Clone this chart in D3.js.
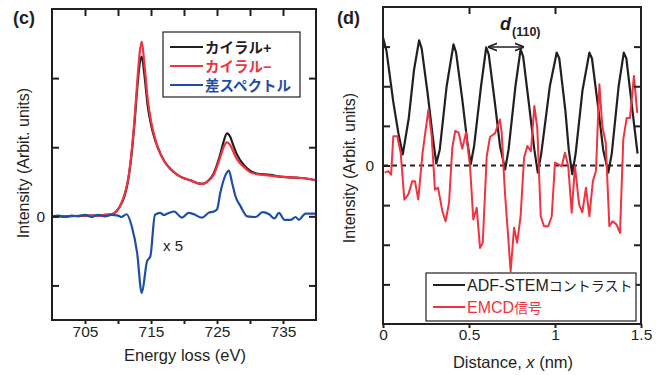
<!DOCTYPE html>
<html><head><meta charset="utf-8">
<script src="https://cdn.jsdelivr.net/npm/d3@7"></script>
<style>
body{margin:0;background:#fff;}
svg{display:block;}
text{font-family:"Liberation Sans",Arial,"Noto Sans CJK JP",sans-serif;}
</style></head>
<body><svg id="c" width="667" height="375"></svg>
<script>
// ---------- Panel (c) data ----------
const energy = [700,702,705,707,708,709,709.5,710,710.5,711,711.5,712,712.5,713,713.3,713.6,714,714.5,715,715.5,716,717,718,719,720,721,722,722.7,723.5,724.5,725.5,726,726.5,727,727.5,728,729,730,731,733,735,737,739,740];
const chiralPlus = [0,0,0.01,0.01,0.02,0.03,0.05,0.1,0.18,0.3,0.5,0.85,1.35,1.95,2.22,2.31,2.05,1.6,1.33,1.14,1.0,0.8,0.68,0.6,0.55,0.52,0.48,0.47,0.5,0.62,0.9,1.08,1.2,1.15,1.02,0.9,0.75,0.66,0.62,0.6,0.57,0.56,0.54,0.52];
const chiralMinus = [0,0,0.01,0.01,0.02,0.03,0.05,0.1,0.19,0.32,0.52,0.88,1.4,2.05,2.38,2.53,2.2,1.7,1.38,1.17,1.01,0.8,0.68,0.6,0.55,0.52,0.48,0.47,0.5,0.6,0.86,1.0,1.07,1.03,0.93,0.83,0.72,0.64,0.61,0.59,0.57,0.56,0.54,0.52];
const diffEnergy = [700,701,702,703,704,705,706,707,708,709,710,710.5,711.3,712.1,712.9,713.6,714.4,714.9,715.6,716.4,716.9,717.5,718.5,719.7,720.7,721.5,722.7,723.7,724.5,725,725.5,726.3,726.8,727.3,727.8,728.6,729.6,730.9,731.9,732.9,733.7,734.4,735.2,736.2,736.9,737.4,738.4,739.5,740];
const diffSpec = [0,0.01,-0.01,0.01,0,0.02,-0.01,0.02,0,0.02,0.01,-0.01,0.03,-0.15,-0.53,-1.11,-0.65,-0.58,0.02,0.05,0.02,0.04,0.07,-0.02,0.05,0.03,-0.02,0.05,0.07,0.1,0.34,0.6,0.66,0.48,0.29,0.14,0,-0.01,0.06,0.03,-0.03,0.05,-0.05,-0.05,-0.01,-0.05,0.04,0.04,0.04];
const cTickValues = [705,710,715,720,725,730,735];
const cTickLabels = [705,715,725,735];
const cYTicks = [-1,0,1,2];
const cLegend = ["カイラル+","カイラル−","差スペクトル"];

// ---------- Panel (d) data ----------
const adfX = [0,0.02,0.06,0.09,0.115,0.15,0.18,0.21,0.225,0.26,0.29,0.31,0.33,0.37,0.41,0.425,0.46,0.49,0.51,0.53,0.57,0.60,0.615,0.65,0.68,0.71,0.73,0.77,0.80,0.815,0.85,0.88,0.90,0.92,0.97,1.01,1.025,1.06,1.08,1.10,1.12,1.16,1.20,1.215,1.25,1.28,1.31,1.33,1.37,1.40,1.415,1.45,1.48];
const adfY = [3.23,2.9,1.6,0.8,0.28,1.2,2.4,3.16,2.95,1.8,0.7,0.05,0.4,2.0,3.06,2.85,1.7,0.6,0.03,0.5,2.0,2.98,2.8,1.6,0.5,-0.1,0.4,2.0,2.93,2.75,1.5,0.4,-0.18,0.3,2.0,2.85,2.7,1.4,0.4,-0.22,0.3,1.9,2.85,2.7,1.5,0.4,-0.18,0.3,2.0,2.85,2.7,1.4,0.3];
const emcdX = [0.01,0.03,0.047,0.06,0.083,0.103,0.124,0.147,0.17,0.186,0.205,0.23,0.264,0.283,0.302,0.32,0.345,0.364,0.384,0.403,0.42,0.44,0.461,0.483,0.506,0.525,0.545,0.564,0.58,0.603,0.622,0.651,0.68,0.69,0.709,0.729,0.742,0.762,0.78,0.80,0.82,0.839,0.86,0.88,0.897,0.917,0.936,0.961,0.981,1.0,1.02,1.039,1.058,1.077,1.097,1.116,1.14,1.159,1.18,1.20,1.22,1.238,1.258,1.275,1.295,1.316,1.335,1.358,1.378,1.397,1.417,1.436,1.459,1.478];
const emcdY = [-0.18,-0.14,-0.23,0.74,0.74,0.32,-0.86,-0.73,-0.4,-0.4,-0.86,0.32,1.41,0.74,-0.61,-0.56,-1.15,-1.41,-0.94,0.45,0.87,0.83,0.42,0.84,-0.02,-1.36,-1.07,-2.08,-1.95,0.23,0.72,0.81,1.16,0.83,-0.69,-1.87,-2.67,-1.57,-1.95,-1.28,0.19,0.49,0.36,1.5,0.95,-1.28,-1.53,-1.53,-1.28,0.07,0.03,-0.02,0.32,-0.02,-1.19,-0.02,-0.98,-1.18,-0.56,-1.28,-0.4,-0.14,2.05,0.99,0.57,-1.53,-1.41,-1.49,-1.7,0.66,1.2,1.2,2.26,1.33];
const dTickValues = [0,0.5,1,1.5];
const dTickLabels = ["0","0.5","1","1.5"];
const dYTicks = [-3,-2,-1,0,1,2,3];

// ---------- colours ----------
const BLACK = "#231f20", RED = "#ef3340", BLUE = "#1f4fa2";

const svg = d3.select("#c");

// ================= Panel (c) =================
{
  const L=52, R=316, T=9, B=320;
  const x = d3.scaleLinear().domain([700,740]).range([L,R]);
  const y = d3.scaleLinear().domain([-1.5,3.0]).range([B,T]);
  const g = svg.append("g");
  const clip = g.append("clipPath").attr("id","clipc").append("rect").attr("x",L).attr("y",T).attr("width",R-L).attr("height",B-T);
  const line = d3.line().x(d=>x(d[0])).y(d=>y(d[1])).curve(d3.curveMonotoneX);
  const pg = g.append("g").attr("clip-path","url(#clipc)");
  pg.append("path").attr("d",line(energy.map((e,i)=>[e,chiralPlus[i]]))).attr("fill","none").attr("stroke",BLACK).attr("stroke-width",2.2);
  pg.append("path").attr("d",line(energy.map((e,i)=>[e,chiralMinus[i]]))).attr("fill","none").attr("stroke",RED).attr("stroke-width",2.2);
  pg.append("path").attr("d",line(diffEnergy.map((e,i)=>[e,diffSpec[i]]))).attr("fill","none").attr("stroke",BLUE).attr("stroke-width",2.2);

  // axes
  const fmt = v => cTickLabels.includes(v) ? String(v) : "";
  const xb = g.append("g").attr("transform",`translate(0,${B})`).call(d3.axisBottom(x).tickValues(cTickValues).tickSize(4).tickFormat(fmt));
  const xt = g.append("g").attr("transform",`translate(0,${T})`).call(d3.axisBottom(x).tickValues(cTickValues).tickSize(7).tickFormat(""));
  const yl = g.append("g").attr("transform",`translate(${L},0)`).call(d3.axisRight(y).tickValues(cYTicks).tickSize(7).tickFormat(""));
  const yr = g.append("g").attr("transform",`translate(${R},0)`).call(d3.axisLeft(y).tickValues(cYTicks).tickSize(7).tickFormat(""));
  [xb,xt,yl,yr].forEach(a=>{a.select(".domain").remove();a.selectAll("line").attr("stroke",BLACK).attr("stroke-width",2);});
  xb.selectAll("text").attr("font-size","15.5px").attr("fill",BLACK).attr("dy",null).attr("y",17);
  g.append("rect").attr("x",L).attr("y",T).attr("width",R-L).attr("height",B-T).attr("fill","none").attr("stroke",BLACK).attr("stroke-width",2);
  g.append("text").attr("x",L-7).attr("y",y(0)+5.5).attr("text-anchor","end").attr("font-size","15.5px").attr("fill",BLACK).text("0");

  g.append("text").attr("x",(L+R)/2+1).attr("y",361).attr("text-anchor","middle").attr("font-size","16.5px").attr("fill",BLACK).text("Energy loss (eV)");
  g.append("text").attr("transform","translate(29,163) rotate(-90)").attr("text-anchor","middle").attr("font-size","16px").attr("fill",BLACK).text("Intensity (Arbit. units)");
  g.append("text").attr("x",13).attr("y",24).attr("font-size","18px").attr("font-weight","bold").attr("fill",BLACK).text("(c)");
  g.append("text").attr("x",163).attr("y",251).attr("font-size","15px").attr("fill",BLACK).text("x 5");

  // legend
  const lg = g.append("g");
  lg.append("rect").attr("x",163).attr("y",32).attr("width",137).attr("height",65).attr("fill","#fff").attr("stroke",BLACK).attr("stroke-width",1.2);
  const cols=[BLACK,RED,BLUE], ys=[47,66,85];
  cLegend.forEach((t,i)=>{
    lg.append("line").attr("x1",170).attr("x2",203).attr("y1",ys[i]).attr("y2",ys[i]).attr("stroke",cols[i]).attr("stroke-width",2);
    lg.append("text").attr("x",205).attr("y",ys[i]+5.5).attr("font-family","'Noto Sans CJK JP',sans-serif").attr("font-weight","bold").attr("font-size","14.5px").attr("fill",cols[i]).text(t);
  });
}

// ================= Panel (d) =================
{
  const L=383, R=641, T=7, B=324;
  const x = d3.scaleLinear().domain([0,1.5]).range([L,R]);
  const y = d3.scaleLinear().domain([-4,4]).range([B,T]);
  const g = svg.append("g");
  g.append("clipPath").attr("id","clipd").append("rect").attr("x",L).attr("y",T).attr("width",R-L).attr("height",B-T);
  const pg = g.append("g").attr("clip-path","url(#clipd)");
  pg.append("line").attr("x1",L).attr("x2",R).attr("y1",y(0)).attr("y2",y(0)).attr("stroke",BLACK).attr("stroke-width",1.8).attr("stroke-dasharray","5,4");
  const line = d3.line().x(d=>x(d[0])).y(d=>y(d[1]));
  pg.append("path").attr("d",line(adfX.map((v,i)=>[v,adfY[i]]))).attr("fill","none").attr("stroke",BLACK).attr("stroke-width",2.2).attr("stroke-linejoin","round");
  pg.append("path").attr("d",line(emcdX.map((v,i)=>[v,emcdY[i]]))).attr("fill","none").attr("stroke",RED).attr("stroke-width",2).attr("stroke-linejoin","round");

  const xb = g.append("g").attr("transform",`translate(0,${B})`).call(d3.axisBottom(x).tickValues(dTickValues).tickSize(4).tickFormat((v,i)=>dTickLabels[i]));
  const xt = g.append("g").attr("transform",`translate(0,${T})`).call(d3.axisBottom(x).tickValues([0.5,1]).tickSize(7).tickFormat(""));
  const yl = g.append("g").attr("transform",`translate(${L},0)`).call(d3.axisRight(y).tickValues(dYTicks).tickSize(7).tickFormat(""));
  const yr = g.append("g").attr("transform",`translate(${R},0)`).call(d3.axisLeft(y).tickValues(dYTicks).tickSize(7).tickFormat(""));
  [xb,xt,yl,yr].forEach(a=>{a.select(".domain").remove();a.selectAll("line").attr("stroke",BLACK).attr("stroke-width",2);});
  xb.selectAll("text").attr("font-size","15.5px").attr("fill",BLACK).attr("dy",null).attr("y",16);
  g.append("rect").attr("x",L).attr("y",T).attr("width",R-L).attr("height",B-T).attr("fill","none").attr("stroke",BLACK).attr("stroke-width",2);
  g.append("text").attr("x",L-9).attr("y",y(0)+5).attr("text-anchor","end").attr("font-size","15.5px").attr("fill",BLACK).text("0");

  const xl = g.append("text").attr("x",513).attr("y",368).attr("text-anchor","middle").attr("font-size","16.5px").attr("fill",BLACK);
  xl.append("tspan").text("Distance, ");
  xl.append("tspan").attr("font-style","italic").text("x");
  xl.append("tspan").text(" (nm)");
  g.append("text").attr("transform","translate(355,168) rotate(-90)").attr("text-anchor","middle").attr("font-size","16px").attr("fill",BLACK).text("Intensity (Arbit. units)");
  g.append("text").attr("x",337).attr("y",24).attr("font-size","18px").attr("font-weight","bold").attr("fill",BLACK).text("(d)");

  // d(110) annotation
  const ann = g.append("text").attr("x",500).attr("y",30).attr("fill",BLACK).attr("font-weight","bold");
  ann.append("tspan").attr("font-size","18px").attr("font-style","italic").text("d");
  ann.append("tspan").attr("font-size","12.5px").attr("dy",6).attr("dx",1).text("(110)");
  const defs = svg.append("defs");
  defs.append("marker").attr("id","ah").attr("viewBox","0 0 10 10").attr("refX",9).attr("refY",5).attr("markerWidth",6).attr("markerHeight",6).attr("orient","auto-start-reverse")
    .append("path").attr("d","M0,1 L10,5 L0,9").attr("fill","none").attr("stroke",BLACK).attr("stroke-width",1.6);
  g.append("line").attr("x1",x(0.615)).attr("x2",x(0.815)).attr("y1",47).attr("y2",47).attr("stroke",BLACK).attr("stroke-width",1.6).attr("marker-start","url(#ah)").attr("marker-end","url(#ah)");

  // legend
  const lg = g.append("g");
  lg.append("rect").attr("x",426).attr("y",273).attr("width",210).attr("height",48).attr("fill","#fff").attr("stroke",BLACK).attr("stroke-width",1.2);
  const rows=[{t1:"ADF-STEM",t2:"コントラスト",c:BLACK,y:285},{t1:"EMCD",t2:"信号",c:RED,y:307}];
  rows.forEach(r=>{
    lg.append("line").attr("x1",433).attr("x2",465).attr("y1",r.y).attr("y2",r.y).attr("stroke",r.c).attr("stroke-width",2);
    const t = lg.append("text").attr("x",467).attr("y",r.y+6).attr("fill",r.c);
    t.append("tspan").attr("font-size","16px").text(r.t1);
    t.append("tspan").attr("font-size","14px").attr("font-family","'Noto Sans CJK JP',sans-serif").text(r.t2);
  });
}
</script></body></html>
